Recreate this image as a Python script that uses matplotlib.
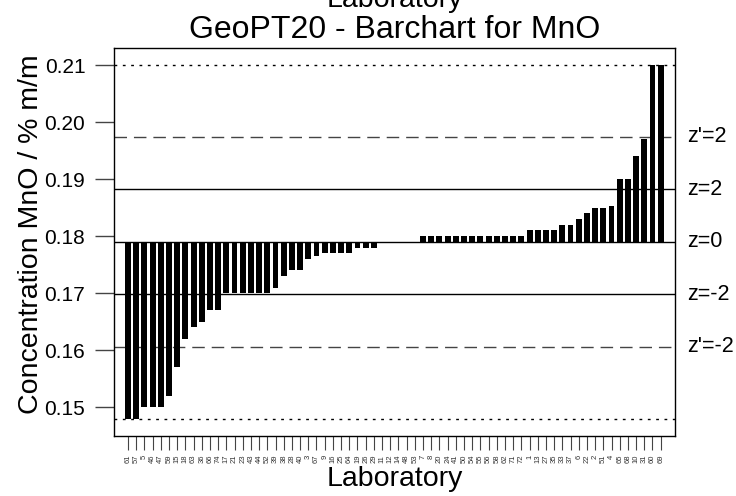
import matplotlib
matplotlib.use("Agg")
import matplotlib.pyplot as plt
import numpy as np

plt.rcParams['font.family'] = ['Liberation Sans', 'DejaVu Sans']

labs = [61, 57, 5, 46, 47, 59, 15, 18, 63, 36, 66, 74, 17, 21, 23, 43, 44, 52,
        39, 38, 28, 40, 3, 67, 9, 16, 25, 64, 19, 26, 29, 11, 12, 14, 48, 53,
        7, 8, 20, 24, 41, 50, 54, 55, 56, 58, 62, 71, 72, 1, 13, 27, 35, 33,
        37, 6, 22, 2, 51, 4, 65, 68, 10, 31, 60, 69]
values = [0.148, 0.148, 0.150, 0.150, 0.150, 0.152, 0.157, 0.162, 0.164, 0.165,
          0.167, 0.167, 0.170, 0.170, 0.170, 0.170, 0.170, 0.170,
          0.171, 0.173, 0.174, 0.174, 0.176, 0.1765, 0.177, 0.177, 0.177, 0.177,
          0.178, 0.178, 0.178, 0.179, 0.179, 0.179, 0.179, 0.179,
          0.180, 0.180, 0.180, 0.180, 0.180, 0.180, 0.180, 0.180, 0.180, 0.180,
          0.180, 0.180, 0.180, 0.181, 0.181, 0.181, 0.181, 0.182, 0.182,
          0.183, 0.184, 0.185, 0.185, 0.1853, 0.190, 0.190, 0.194, 0.197,
          0.210, 0.210]
assigned = 0.179
sd_z = 0.0046
sd_zp = 0.0092
yticks = [0.15, 0.16, 0.17, 0.18, 0.19, 0.20, 0.21]

vals = np.array(values)
x = np.arange(len(labs))

fig = plt.figure(figsize=(7.36, 4.96), dpi=100)
ax = fig.add_axes([114/736, 60/496, 560.7/736, 387.7/496])

ax.bar(x, vals - assigned, bottom=assigned, width=0.72, color='black', zorder=3)

ax.axhline(assigned, color='black', lw=1.0, zorder=2)
ax.axhline(assigned + 2*sd_z, color='black', lw=1.0, zorder=2)
ax.axhline(assigned - 2*sd_z, color='black', lw=1.0, zorder=2)
ax.axhline(assigned + 2*sd_zp, color='#444444', lw=1.0, ls=(0, (9, 5)), zorder=2)
ax.axhline(assigned - 2*sd_zp, color='#444444', lw=1.0, ls=(0, (9, 5)), zorder=2)
ax.axhline(vals.max(), color='black', lw=1.0, ls=(0, (2, 4)), zorder=2)
ax.axhline(vals.min(), color='black', lw=1.0, ls=(0, (2, 4)), zorder=2)

ax.set_xlim(-1.71, len(labs) - 1 + 1.71)
ax.set_ylim(0.14497, 0.21293)

ax.set_xticks(x)
ax.set_xticklabels([str(l) for l in labs], rotation=90, fontsize=5.5, color='#333333')
ax.tick_params(axis='x', length=10, pad=3.6, color='#444444', width=0.8)
ax.set_yticks(yticks)
ax.set_yticklabels(['%.2f' % v for v in yticks], fontsize=15)
ax.tick_params(axis='y', length=13.7, pad=7, color='#444444', width=1.0)

for sp in ax.spines.values():
    sp.set_linewidth(1.0)
    sp.set_color('black')

ax.set_xlabel('Laboratory', fontsize=20.5)
ax.xaxis.set_label_coords(0.5, (436 - 466) / 387.7)
ax.set_ylabel('Concentration MnO / % m/m', fontsize=20.5)
ax.yaxis.set_label_coords((44 - 114) / 560.7, 0.52)
ax.set_title('GeoPT20 - Barchart for MnO', fontsize=23, pad=7.2)

fig.text(0.5 * (114 + 674.7) / 736, (496 - 7) / 496, 'Laboratory', fontsize=20.5,
         ha='center', va='baseline')

zlabels = ["z'=2", "z=2", "z=0", "z=-2", "z'=-2"]
zvals = [assigned + 2*sd_zp, assigned + 2*sd_z, assigned,
         assigned - 2*sd_z, assigned - 2*sd_zp]
for lab, v in zip(zlabels, zvals):
    ax.text(1.0 + 12/560.7, v, lab, transform=ax.get_yaxis_transform(),
            fontsize=15.5, ha='left', va='center', clip_on=False)

fig.savefig('out.png', dpi=100)
